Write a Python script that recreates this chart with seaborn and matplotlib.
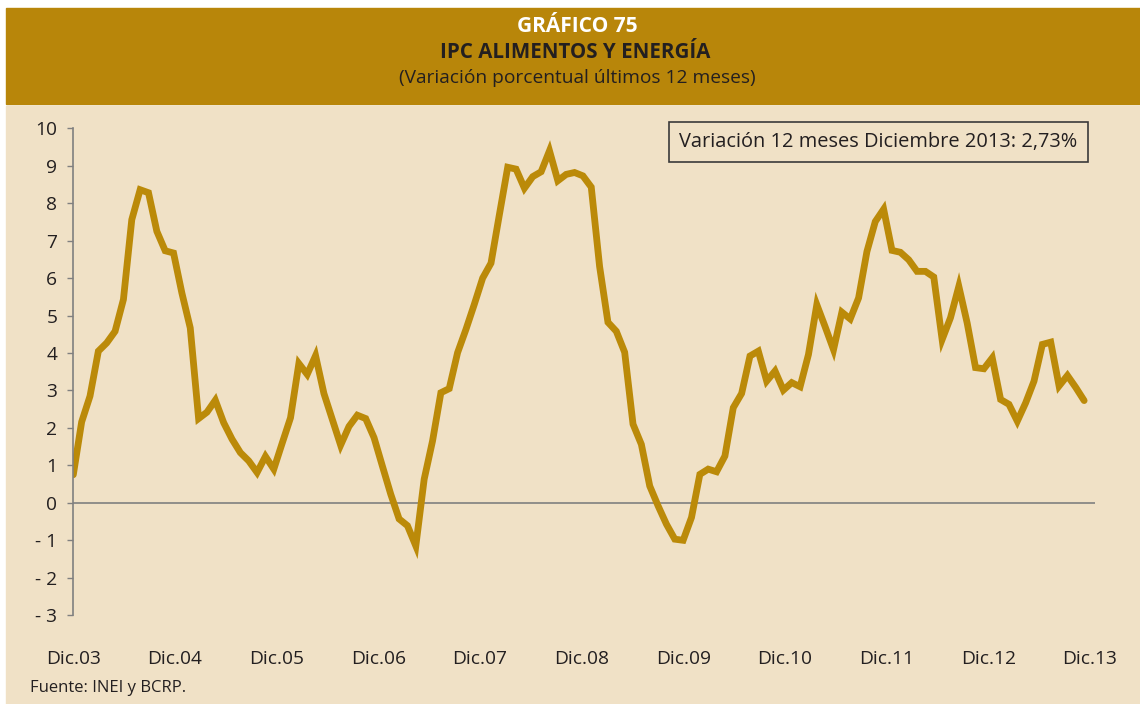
import numpy as np
import pandas as pd
import matplotlib
matplotlib.use("Agg")
import matplotlib.pyplot as plt
import seaborn as sns
from matplotlib.patches import Rectangle

# IPC alimentos y energia, variacion % 12 meses, mensual Dic.03 - Dic.13
ipc_values = [
    0.75, 2.16, 2.85, 4.05, 4.27, 4.58, 5.43, 7.56, 8.36, 8.28,
    7.25, 6.73, 6.67, 5.60, 4.67, 2.25, 2.42, 2.74, 2.14, 1.70,
    1.34, 1.12, 0.81, 1.24, 0.90, 1.59, 2.27, 3.72, 3.43, 3.93,
    2.92, 2.23, 1.54, 2.04, 2.34, 2.25, 1.74, 0.98, 0.23, -0.43,
    -0.61, -1.15, 0.63, 1.65, 2.94, 3.05, 4.01, 4.63, 5.30, 6.00,
    6.40, 7.69, 8.96, 8.91, 8.40, 8.71, 8.84, 9.40, 8.60, 8.77,
    8.82, 8.73, 8.43, 6.31, 4.82, 4.58, 4.02, 2.10, 1.56, 0.45,
    -0.08, -0.57, -0.97, -1.00, -0.39, 0.76, 0.90, 0.83, 1.25, 2.54,
    2.92, 3.92, 4.05, 3.25, 3.52, 3.01, 3.21, 3.10, 3.96, 5.29,
    4.70, 4.09, 5.09, 4.91, 5.47, 6.71, 7.51, 7.84, 6.74, 6.69,
    6.49, 6.18, 6.18, 6.03, 4.36, 4.94, 5.78, 4.80, 3.61, 3.58,
    3.87, 2.76, 2.63, 2.18, 2.67, 3.25, 4.23, 4.29, 3.12, 3.40,
    3.08, 2.73,
]
year_labels = ['Dic.03', 'Dic.04', 'Dic.05', 'Dic.06', 'Dic.07', 'Dic.08',
               'Dic.09', 'Dic.10', 'Dic.11', 'Dic.12', 'Dic.13']
y_ticks = list(range(-3, 11))
y_tick_labels = ['- 3', '- 2', '- 1', '0', '1', '2', '3', '4', '5', '6',
                 '7', '8', '9', '10']

header_num = 'GRÁFICO 75'
header_title = 'IPC ALIMENTOS Y ENERGÍA'
header_sub = '(Variación porcentual últimos 12 meses)'
note_text = 'Variación 12 meses Diciembre 2013: 2,73%'
source_text = 'Fuente: INEI y BCRP.'

GOLD = '#B8860A'
BEIGE = '#F0E1C6'
LINE = '#BB8A09'
DARK = '#231F20'
GREY = '#808080'

sns.set_style('ticks')
plt.rcParams['font.family'] = ['Open Sans', 'DejaVu Sans']

df = pd.DataFrame({'mes': np.arange(len(ipc_values)), 'ipc': ipc_values})

W, H = 1140, 704
fig = plt.figure(figsize=(W / 100, H / 100), dpi=100)
fig.patch.set_facecolor('white')


def fx(px):
    return px / W


def fy(py):
    return 1 - py / H


# header band and beige panel (behind the axes)
fig.patches.append(Rectangle((fx(6), fy(104)), 1 - fx(6), (104 - 7.5) / H,
                             transform=fig.transFigure, color=GOLD, zorder=-2))
fig.patches.append(Rectangle((fx(6), 0), 1 - fx(6), fy(106),
                             transform=fig.transFigure, color=BEIGE, zorder=-2))

fig.text(fx(577), fy(27), header_num, ha='center', va='center',
         fontsize=15, fontweight='bold', color='white')
fig.text(fx(575), fy(52), header_title, ha='center', va='center',
         fontsize=14.8, fontweight='bold', color=DARK)
fig.text(fx(577), fy(78), header_sub, ha='center', va='center',
         fontsize=13.8, color=DARK)

ax = fig.add_axes([fx(73.3), fy(615.2), (1095 - 73.3) / W, (615.2 - 128.3) / H])
ax.set_facecolor('none')
sns.lineplot(data=df, x='mes', y='ipc', ax=ax, color=LINE, linewidth=4.9)
ln = ax.lines[0]
ln.set_solid_capstyle('round')
ln.set_solid_joinstyle('miter')
ax.axhline(0, color=GREY, lw=1.2, zorder=1)

ax.set_xlim(0, 122.3)
ax.set_ylim(-3, 10)
ax.set_yticks(y_ticks)
ax.set_yticklabels(y_tick_labels)
ax.set_xticks(np.linspace(0, 121.7, len(year_labels)))
ax.set_xticklabels(year_labels)
ax.set_xlabel('')
ax.set_ylabel('')
ax.tick_params(axis='y', length=4.5, width=1, color=GREY, pad=7,
               labelsize=13.8, labelcolor=DARK)
ax.tick_params(axis='x', length=0, pad=25, labelsize=13.8, labelcolor=DARK)
for side in ['top', 'right', 'bottom']:
    ax.spines[side].set_visible(False)
ax.spines['left'].set_color(GREY)
ax.spines['left'].set_linewidth(1.2)

# note box
fig.patches.append(Rectangle((fx(669), fy(162.3)), (1088 - 669) / W, (162.3 - 121.7) / H,
                             transform=fig.transFigure, facecolor='none',
                             edgecolor='#3a3a3a', lw=1.2, zorder=5))
fig.text(fx(878.5), fy(142), note_text, ha='center', va='center',
         fontsize=14.4, color=DARK)

fig.text(fx(30), fy(688), source_text, ha='left', va='center',
         fontsize=12, color=DARK)

plt.savefig('out.png', dpi=100, facecolor=fig.get_facecolor())
